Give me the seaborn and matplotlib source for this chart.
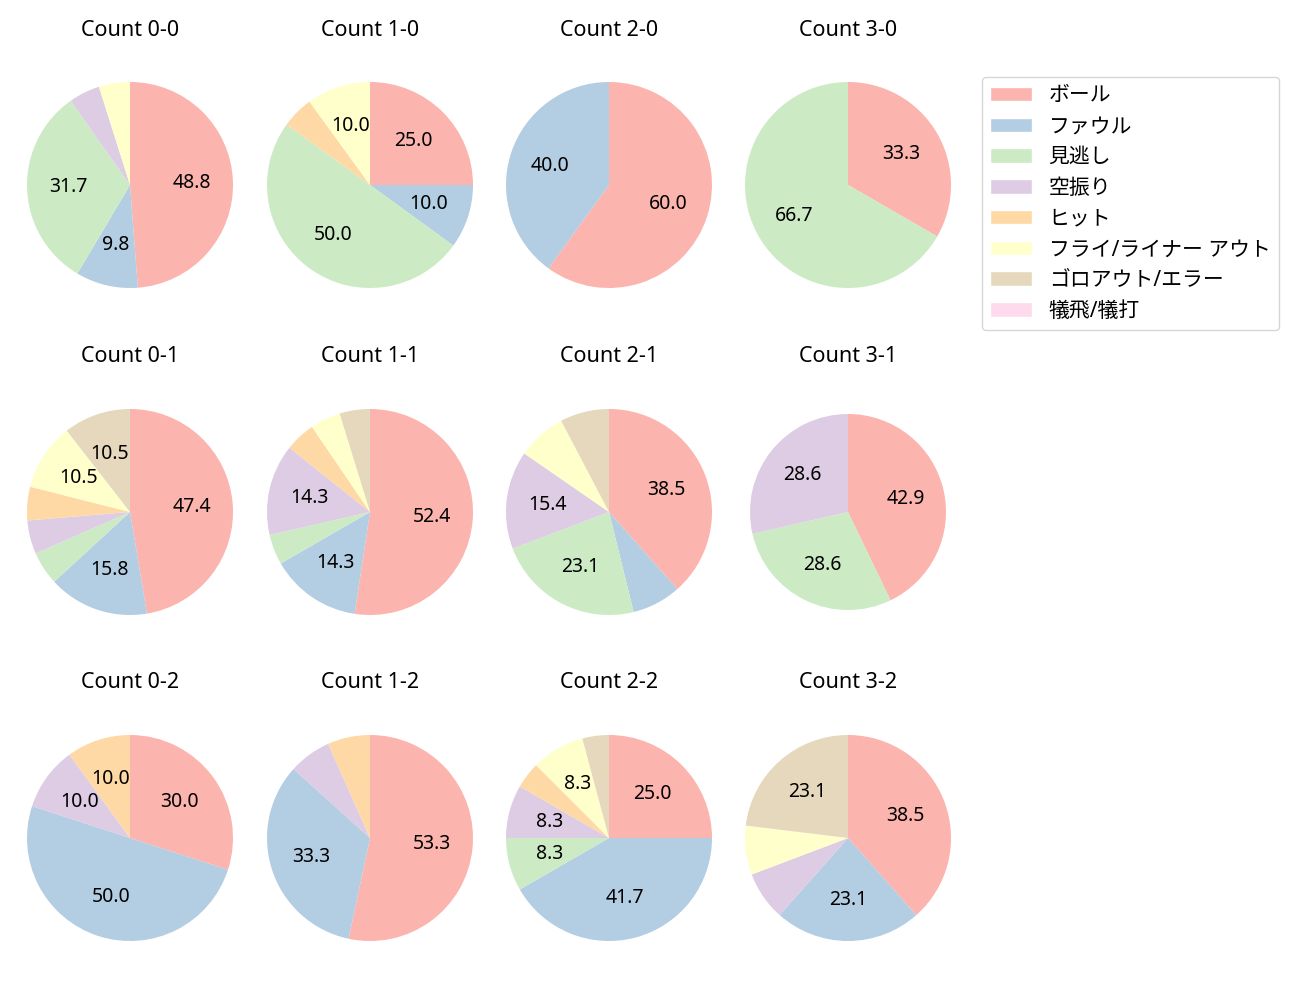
import matplotlib
matplotlib.use("Agg")
import matplotlib.pyplot as plt
import seaborn as sns
from matplotlib.patches import Patch

sns.set_theme(style="white")
plt.rcParams['font.family'] = ['Noto Sans', 'Noto Sans CJK JP', 'DejaVu Sans']

categories = ["ボール", "ファウル", "見逃し", "空振り", "ヒット",
              "フライ/ライナー アウト", "ゴロアウト/エラー", "犠飛/犠打"]

counts = ["0-0", "1-0", "2-0", "3-0",
          "0-1", "1-1", "2-1", "3-1",
          "0-2", "1-2", "2-2", "3-2"]

# pitch counts per outcome (same order as categories)
v_0_0 = [20, 4, 13, 2, 0, 2, 0, 0]
v_1_0 = [5, 2, 10, 0, 1, 2, 0, 0]
v_2_0 = [3, 2, 0, 0, 0, 0, 0, 0]
v_3_0 = [1, 0, 2, 0, 0, 0, 0, 0]
v_0_1 = [9, 3, 1, 1, 1, 2, 2, 0]
v_1_1 = [11, 3, 1, 3, 1, 1, 1, 0]
v_2_1 = [5, 1, 3, 2, 0, 1, 1, 0]
v_3_1 = [3, 0, 2, 2, 0, 0, 0, 0]
v_0_2 = [3, 5, 0, 1, 1, 0, 0, 0]
v_1_2 = [8, 5, 0, 1, 1, 0, 0, 0]
v_2_2 = [6, 10, 2, 2, 1, 2, 1, 0]
v_3_2 = [5, 3, 0, 1, 0, 1, 3, 0]

values = [v_0_0, v_1_0, v_2_0, v_3_0,
          v_0_1, v_1_1, v_2_1, v_3_1,
          v_0_2, v_1_2, v_2_2, v_3_2]

colors = sns.color_palette("Pastel1", 8)

W, H = 1300, 1000
fig = plt.figure(figsize=(13, 10), dpi=100)

col_x = [130, 370, 609, 848]
row_y = [185, 512, 838]
radius_px = [103, 103, 103, 103,
             103, 103, 103, 98,
             103, 103, 103, 103]

for i, (cnt, vals) in enumerate(zip(counts, values)):
    r, c = divmod(i, 4)
    cx, cy = col_x[c], row_y[r]
    side = 2.5 * radius_px[i]
    ax = fig.add_axes([(cx - side / 2) / W, 1 - (cy + side / 2) / H, side / W, side / H])
    nz = [(v, col) for v, col in zip(vals, colors) if v > 0]
    ax.pie([v for v, _ in nz], colors=[col for _, col in nz],
           startangle=90, counterclock=False,
           autopct=lambda p: f"{p:.1f}" if p >= 8 else "",
           pctdistance=0.6, wedgeprops={'linewidth': 0},
           textprops={'fontsize': 14, 'color': 'black'})
    ax.set_aspect('equal')
    fig.text(cx / W, 1 - 30 / H - (row_y[r] - row_y[0]) / H, f"Count {cnt}",
             ha='center', va='center', fontsize=15.5, color='black')

handles = [Patch(facecolor=col, label=lab) for col, lab in zip(colors, categories)]
leg = fig.legend(handles=handles, loc='upper left', bbox_to_anchor=(982 / W, 1 - 77 / H),
                 fontsize=15, frameon=True, borderaxespad=0, handlelength=2.0,
                 handleheight=0.7, handletextpad=0.8, labelspacing=0.47)
for t in leg.get_texts():
    t.set_color('black')

fig.savefig("out.png", dpi=100)
